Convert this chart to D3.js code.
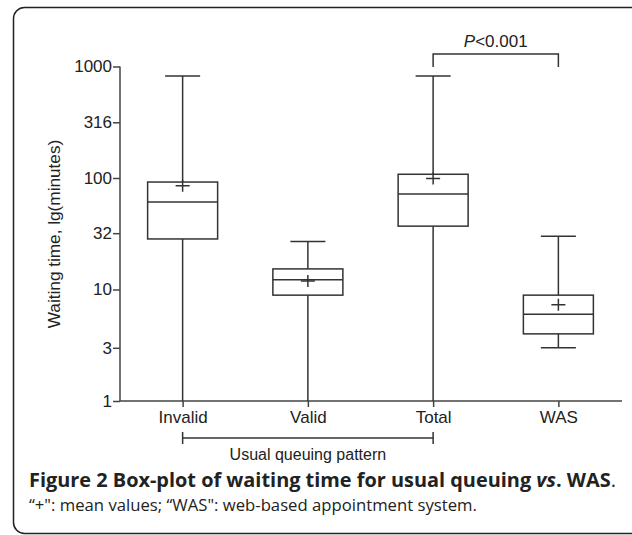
<!DOCTYPE html>
<html>
<head>
<meta charset="utf-8">
<script src="https://cdn.jsdelivr.net/npm/d3@7"></script>
<style>
  body { margin: 0; background: #fff; }
  svg { display: block; }
  .axis text { font-family: "Liberation Sans", Arial, sans-serif; font-size: 17px; fill: #222; }
  .axis path, .axis line { stroke: #444; stroke-width: 1.5px; }
  .label { font-family: "Liberation Sans", Arial, sans-serif; fill: #222; }
  .caption { font-family: "Open Sans", sans-serif; fill: #222; }
</style>
</head>
<body>
<div id="chart"></div>
<script>
// groups on the x axis
const groups = ["Invalid", "Valid", "Total", "WAS"]
// five-number summaries (minutes)
const whiskerLow  = [1, 1, 1, 3.0]
const boxLow      = [28.4, 8.9, 37, 4.0]
const medians     = [61, 12.2, 72, 6.0]
const boxHigh     = [92, 15.3, 108, 8.9]
const whiskerHigh = [820, 27, 820, 30]
const means       = [85, 11.9, 99, 7.3]
// y tick values
const yTicks = [1, 3, 10, 32, 100, 316, 1000]

const W = 632, H = 535
const margin = {top: 66.5, right: 10, bottom: 134, left: 120}

const svg = d3.select("#chart").append("svg")
  .attr("width", W)
  .attr("height", H)

// frame
svg.append("rect")
  .attr("x", 13.5).attr("y", 7.5)
  .attr("width", 640).attr("height", 526)
  .attr("rx", 11)
  .attr("fill", "none")
  .attr("stroke", "#222")
  .attr("stroke-width", 1.5)

const x = d3.scalePoint()
  .domain(groups)
  .range([margin.left, 621])
  .padding(0.5)

const y = d3.scaleLog()
  .domain([1, 1000])
  .range([401, margin.top])

const data = groups.map((g, i) => ({
  name: g, lo: whiskerLow[i], q1: boxLow[i], med: medians[i],
  q3: boxHigh[i], hi: whiskerHigh[i], mean: means[i]
}))

//Y axis
svg.append("g")
  .attr("class", "axis")
  .attr("transform", "translate(" + margin.left + ",0)")
  .call(d3.axisLeft(y).tickValues(yTicks).tickFormat(d3.format("d")).tickSize(7).tickPadding(1).tickSizeOuter(0))
  .call(g => g.select(".domain").attr("d", "M0," + y(1) + "V" + y(1000)))

//X axis
svg.append("g")
  .attr("class", "axis")
  .attr("transform", "translate(0," + y(1) + ")")
  .call(d3.axisBottom(x).tickSize(6).tickPadding(4).tickSizeOuter(0))
  .call(g => g.select(".domain").attr("d", "M" + margin.left + ",0H622"))

// y axis title
svg.append("text")
  .attr("class", "label")
  .attr("transform", "translate(60,234) rotate(-90)")
  .attr("text-anchor", "middle")
  .style("font-size", "17.2px")
  .text("Waiting time, lg(minutes)")

const boxW = 70, capW = 35, plusW = 14, plusH = 12
const stroke = "#333"

const boxes = svg.append("g").attr("class", "boxes")
  .selectAll("g")
  .data(data)
  .enter()
  .append("g")
  .attr("transform", d => "translate(" + x(d.name) + ",0)")

// whiskers
boxes.append("line")
  .attr("x1", 0).attr("x2", 0)
  .attr("y1", d => y(d.lo)).attr("y2", d => y(d.hi))
  .attr("stroke", stroke).attr("stroke-width", 1.5)

// caps (only where whisker ends above the axis)
boxes.append("line")
  .attr("x1", -capW / 2).attr("x2", capW / 2)
  .attr("y1", d => y(d.hi)).attr("y2", d => y(d.hi))
  .attr("stroke", stroke).attr("stroke-width", 1.5)

boxes.filter(d => d.lo > 1).append("line")
  .attr("x1", -capW / 2).attr("x2", capW / 2)
  .attr("y1", d => y(d.lo)).attr("y2", d => y(d.lo))
  .attr("stroke", stroke).attr("stroke-width", 1.5)

// boxes
boxes.append("rect")
  .attr("x", -boxW / 2)
  .attr("width", boxW)
  .attr("y", d => y(d.q3))
  .attr("height", d => y(d.q1) - y(d.q3))
  .attr("fill", "#fff")
  .attr("stroke", stroke).attr("stroke-width", 1.5)

// medians
boxes.append("line")
  .attr("x1", -boxW / 2).attr("x2", boxW / 2)
  .attr("y1", d => y(d.med)).attr("y2", d => y(d.med))
  .attr("stroke", stroke).attr("stroke-width", 1.5)

// means "+"
boxes.append("path")
  .attr("d", d => "M" + (-plusW / 2) + "," + y(d.mean) + "h" + plusW +
    "M0," + (y(d.mean) - plusH / 2) + "v" + plusH)
  .attr("stroke", stroke).attr("stroke-width", 1.5)
  .attr("fill", "none")

// bracket under the usual queuing groups
const by = 438
svg.append("path")
  .attr("d", "M" + x("Invalid") + "," + (by - 6) + "v12M" + x("Invalid") + "," + by +
    "H" + x("Total") + "M" + x("Total") + "," + (by - 6) + "v12")
  .attr("stroke", stroke).attr("stroke-width", 1.5).attr("fill", "none")

svg.append("text")
  .attr("class", "label")
  .attr("x", (x("Invalid") + x("Total")) / 2)
  .attr("y", 460)
  .attr("text-anchor", "middle")
  .style("font-size", "16px")
  .text("Usual queuing pattern")

// significance bracket
const sy = 54
svg.append("path")
  .attr("d", "M" + x("Total") + "," + (sy + 13) + "V" + sy + "H" + x("WAS") + "V" + (sy + 13))
  .attr("stroke", stroke).attr("stroke-width", 1.5).attr("fill", "none")

const pt = svg.append("text")
  .attr("class", "label")
  .attr("x", (x("Total") + x("WAS")) / 2)
  .attr("y", 47)
  .attr("text-anchor", "middle")
  .style("font-size", "17px")
pt.append("tspan").style("font-style", "italic").text("P")
pt.append("tspan").text("<0.001")

// caption
const c1 = svg.append("text")
  .attr("class", "caption")
  .attr("x", 29).attr("y", 487)
  .style("font-size", "19.9px")
c1.append("tspan").style("font-weight", "bold").text("Figure 2 Box-plot of waiting time for usual queuing ")
c1.append("tspan").style("font-weight", "bold").style("font-style", "italic").text("vs")
c1.append("tspan").style("font-weight", "bold").text(". WAS")
c1.append("tspan").text(".")

svg.append("text")
  .attr("class", "caption")
  .attr("x", 29).attr("y", 511)
  .style("font-size", "16.7px")
  .attr("fill", "#333")
  .text("\u201C+\": mean values; \u201CWAS\": web-based appointment system.")
</script>
</body>
</html>
